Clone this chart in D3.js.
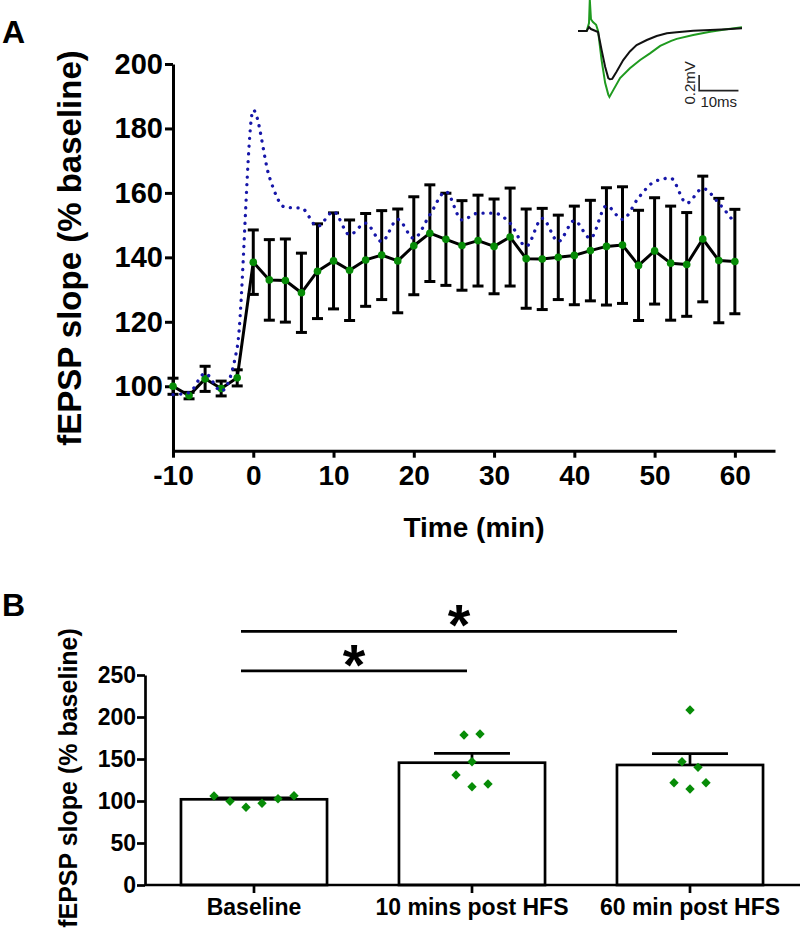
<!DOCTYPE html>
<html><head><meta charset="utf-8">
<script src="https://cdnjs.cloudflare.com/ajax/libs/d3/7.8.5/d3.min.js"></script>
<style>
body{margin:0;background:#fff}
svg{display:block}
text{font-family:"Liberation Sans",Arial,Helvetica,sans-serif}
</style></head>
<body>
<svg id="c" width="800" height="931"></svg>
<script>
// ---------- Panel A data ----------
const timeMin = [-10,-8,-6,-4,-2,0,2,4,6,8,10,12,14,16,18,20,22,24,26,28,30,32,34,36,38,40,42,44,46,48,50,52,54,56,58,60];
const meanSlope = [100,97.1,102.3,99.3,102.6,138.5,133.0,132.8,129.0,135.7,138.9,136.0,139.2,140.7,138.9,143.6,147.5,145.6,143.7,145.2,143.4,146.3,139.6,139.5,140.0,140.6,142.1,143.4,143.8,137.5,142.0,138.2,137.8,145.7,139.0,138.7];
const semSlope  = [2.5,1.0,3.9,2.3,2.5,10.0,12.5,12.9,12.3,14.7,14.9,15.6,14.4,13.8,16.1,15.2,15.0,14.3,13.9,14.1,14.7,15.2,15.4,15.7,13.1,15.3,15.6,18.2,18.1,17.1,16.5,17.7,16.1,19.5,19.3,16.2];
const dottedSlope = [97.4,98.0,104.0,98.5,112.0,185.7,165.0,155.5,155.3,149.6,154.2,147.0,150.6,144.9,151.8,145.9,153.2,160.4,151.6,153.7,153.7,150.6,143.4,152.1,144.9,151.4,145.9,156.0,151.8,158.5,163.5,164.6,156.8,161.4,156.8,150.6];
const xTicksA = [-10,0,10,20,30,40,50,60];
const yTicksA = [100,120,140,160,180,200];

// inset traces (ms, mV)
const traceMsBase = [0,2.2,2.8,3.3,5.1,6.0,6.9,7.7,8.1,8.7,9.8,11.5,13.2,14.9,17.5,20.0,22.6,25.1,29.3,33.6,37.8,41.7];
const traceMvBase = [0,0,0.05,0.025,-0.013,-0.24,-0.455,-0.60,-0.615,-0.61,-0.52,-0.37,-0.26,-0.18,-0.115,-0.064,-0.03,-0.017,0.004,0.013,0.022,0.034];
const traceMsPost = [0,2.2,2.8,3.0,3.3,3.8,4.6,5.1,6.0,6.9,7.7,8.0,9.0,10.7,13.2,15.8,18.3,20.9,23.7,25.1,29.3,33.6,37.8,41.7];
const traceMvPost = [0,0,0.1,0.40,0.15,0.115,0.08,0.0,-0.37,-0.66,-0.81,-0.84,-0.75,-0.60,-0.475,-0.37,-0.285,-0.19,-0.125,-0.10,-0.05,-0.009,0.022,0.047];

// ---------- Panel B data ----------
const groups = ["Baseline","10 mins post HFS","60 min post HFS"];
const groupMean = [102,145.6,142.9];
const groupSem = [1.8,11,13.4];
const groupPoints = [[106.0,99.6,92.5,97.3,102.7,106.3],[178.6,179.8,146.8,131.0,117.0,120.2],[208.3,146.8,140.1,121.8,114.3,121.8]];
const pointSlots = [[-2.5,-1.5,-0.5,0.5,1.5,2.5],[-0.5,0.5,0,-1,0,1],[0,-0.5,0.5,-1,0,1]];
const yTicksB = [0,50,100,150,200,250];
const sigFrom = ["Baseline","Baseline"];
const sigTo = ["10 mins post HFS","60 min post HFS"];
const sigLevel = [255,302];
const sigLabel = ["*","*"];

const svg = d3.select("#c");
const GREEN = "#078c07";

// ================= Panel A =================
const xA = d3.scaleLinear().domain([-10,65]).range([173,775]);
const yA = d3.scaleLinear().domain([80,200]).range([450.7,64]);
const gA = svg.append("g");

const axA_x = gA.append("g").attr("transform",`translate(0,${yA(80)})`)
  .call(d3.axisBottom(xA).tickValues(xTicksA).tickFormat(d=>String(d)).tickSize(7).tickPadding(7).tickSizeOuter(0));
const axA_y = gA.append("g").attr("transform",`translate(${xA(-10)},0)`)
  .call(d3.axisLeft(yA).tickValues(yTicksA).tickSize(8).tickPadding(2).tickSizeOuter(0));
[axA_x,axA_y].forEach(a=>{
  a.selectAll("path,line").attr("stroke","#000").attr("stroke-width",3);
  a.selectAll("text").attr("fill","#000").style("font-weight","bold");
});
axA_x.selectAll("text").style("font-size","28px");
axA_y.selectAll("text").style("font-size","29px");

gA.append("text").attr("x",474).attr("y",537).attr("text-anchor","middle")
  .style("font-size","28px").style("font-weight","bold").text("Time (min)");
gA.append("text").attr("transform","translate(81,248) rotate(-90)").attr("text-anchor","middle")
  .style("font-size","33px").style("font-weight","bold").text("fEPSP slope (% baseline)");
svg.append("text").attr("x",2).attr("y",43).style("font-size","32px").style("font-weight","bold").text("A");

const rowsA = timeMin.map((t,i)=>({t, m:meanSlope[i], s:semSlope[i], d:dottedSlope[i]}));
const eb = gA.append("g").attr("stroke","#000").attr("stroke-width",3);
rowsA.forEach(r=>{
  const x = xA(r.t);
  eb.append("line").attr("x1",x).attr("x2",x).attr("y1",yA(r.m+r.s)).attr("y2",yA(r.m-r.s));
  eb.append("line").attr("x1",x-5.5).attr("x2",x+5.5).attr("y1",yA(r.m+r.s)).attr("y2",yA(r.m+r.s));
  eb.append("line").attr("x1",x-5.5).attr("x2",x+5.5).attr("y1",yA(r.m-r.s)).attr("y2",yA(r.m-r.s));
});
gA.append("path").datum(rowsA).attr("fill","none").attr("stroke","#000").attr("stroke-width",3)
  .attr("stroke-linejoin","round")
  .attr("d",d3.line().x(r=>xA(r.t)).y(r=>yA(r.m)));
gA.append("g").selectAll("circle").data(rowsA).join("circle")
  .attr("cx",r=>xA(r.t)).attr("cy",r=>yA(r.m)).attr("r",3.8).attr("fill",GREEN);
gA.append("path").datum(rowsA).attr("fill","none").attr("stroke","#1616a8").attr("stroke-width",3.3)
  .attr("stroke-linecap","round").attr("stroke-dasharray","0.1 7.6")
  .attr("d",d3.line().curve(d3.curveMonotoneX).x(r=>xA(r.t)).y(r=>yA(r.d)));

// inset traces
const xT = d3.scaleLinear().domain([0,41.7]).range([578,742]);
const yT = d3.scaleLinear().domain([-1,0.4]).range([109.5,-0.4]);
const tLine = d3.line().x(d=>xT(d[0])).y(d=>yT(d[1]));
svg.append("path").datum(traceMsPost.map((t,i)=>[t,traceMvPost[i]])).attr("fill","none")
  .attr("stroke","#1f9a1f").attr("stroke-width",2).attr("d",tLine);
svg.append("path").datum(traceMsBase.map((t,i)=>[t,traceMvBase[i]])).attr("fill","none")
  .attr("stroke","#111").attr("stroke-width",2).attr("d",tLine);
// scale bar: 10 ms x 0.2 mV
const sbMs = 30.8, sbMv = -0.76;
svg.append("path").attr("fill","none").attr("stroke","#222").attr("stroke-width",1.6)
  .attr("d",`M${xT(sbMs)},${yT(sbMv+0.2)}L${xT(sbMs)},${yT(sbMv)}L${xT(sbMs+10)},${yT(sbMv)}`);
svg.append("text").attr("transform",`translate(${xT(sbMs)-4},${yT(sbMv+0.1)}) rotate(-90)`)
  .attr("text-anchor","middle").style("font-size","15px").attr("fill","#222").text("0.2mV");
svg.append("text").attr("x",xT(sbMs+5)).attr("y",106.5).attr("text-anchor","middle")
  .style("font-size","15px").attr("fill","#222").text("10ms");

// ================= Panel B =================
const xB = d3.scaleBand().domain(groups).range([145,799]).paddingInner(0.33).paddingOuter(0.165);
const yB = d3.scaleLinear().domain([0,250]).range([885,675]);
const gB = svg.append("g");
svg.append("text").attr("x",2).attr("y",616).style("font-size","32px").style("font-weight","bold").text("B");

groups.forEach((g,i)=>{
  gB.append("rect").attr("x",xB(g)).attr("width",xB.bandwidth())
    .attr("y",yB(groupMean[i])).attr("height",yB(0)-yB(groupMean[i]))
    .attr("fill","#fff").attr("stroke","#000").attr("stroke-width",2.7);
  const cx = xB(g)+xB.bandwidth()/2, hw = xB.bandwidth()*0.26;
  gB.append("line").attr("x1",cx).attr("x2",cx).attr("y1",yB(groupMean[i])).attr("y2",yB(groupMean[i]+groupSem[i]))
    .attr("stroke","#000").attr("stroke-width",2.7);
  gB.append("line").attr("x1",cx-hw).attr("x2",cx+hw).attr("y1",yB(groupMean[i]+groupSem[i])).attr("y2",yB(groupMean[i]+groupSem[i]))
    .attr("stroke","#000").attr("stroke-width",2.7);
  gB.append("g").selectAll("path").data(groupPoints[i]).join("path")
    .attr("d",d3.symbol(d3.symbolSquare,44))
    .attr("transform",(v,j)=>`translate(${cx+pointSlots[i][j]*16},${yB(v)}) rotate(45)`)
    .attr("fill",GREEN);
});

const axB_x = gB.append("g").attr("transform",`translate(0,${yB(0)})`)
  .call(d3.axisBottom(xB).tickSize(8).tickPadding(6).tickSizeOuter(0));
axB_x.select(".domain").attr("d","M145,0H800");
const axB_y = gB.append("g").attr("transform","translate(145,0)")
  .call(d3.axisLeft(yB).tickValues(yTicksB).tickSize(8).tickPadding(1).tickSizeOuter(0));
[axB_x,axB_y].forEach(a=>{
  a.selectAll("path,line").attr("stroke","#000").attr("stroke-width",2.7);
  a.selectAll("text").attr("fill","#000").style("font-weight","bold").style("font-size","23px");
});
gB.append("text").attr("transform","translate(77,778) rotate(-90)").attr("text-anchor","middle")
  .style("font-size","25px").style("font-weight","bold").text("fEPSP slope (% baseline)");

// significance
sigFrom.forEach((f,i)=>{
  const x1 = xB(f)+xB.bandwidth()/2-13;
  const x2 = xB(sigTo[i])+xB.bandwidth()/2-(i===0?5:13);
  const y = yB(sigLevel[i]);
  gB.append("line").attr("x1",x1).attr("x2",x2).attr("y1",y).attr("y2",y).attr("stroke","#000").attr("stroke-width",2.7);
  gB.append("text").attr("x",(x1+x2)/2).attr("y",y+14).attr("text-anchor","middle")
    .style("font-size","58px").style("font-weight","bold").text(sigLabel[i]);
});
</script>
</body></html>
